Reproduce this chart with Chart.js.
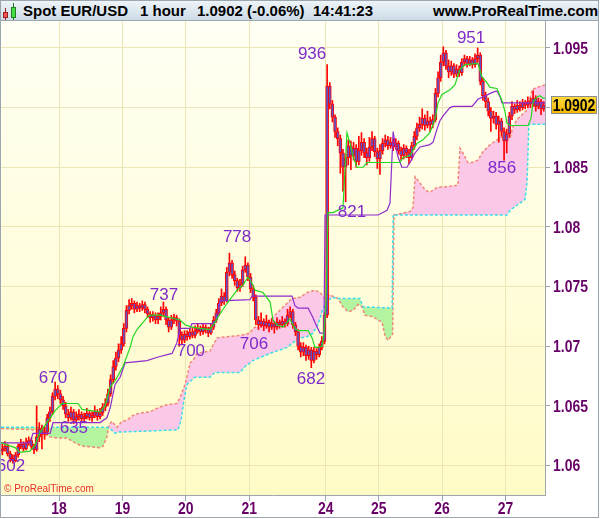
<!DOCTYPE html>
<html lang="en">
<head>
<meta charset="UTF-8">
<title>Spot EUR/USD 1 hour</title>
<script src="https://cdn.jsdelivr.net/npm/chart.js"></script>
<style>
  body { margin: 0; background: #fff; font-family: "Liberation Sans", Arial, sans-serif; }
  #frame { position: absolute; left: 0; top: 0; width: 597px; height: 516px; border: 1px solid #9ba6ae; }
  header { position: absolute; left: 0; top: 0; width: 597px; height: 19px; border-bottom: 1px solid #9ba6ae;
           background: linear-gradient(#eef4f8, #cddbe6); font-weight: bold; font-size: 15px; color: #000; }
  header span { position: absolute; top: 1px; line-height: 18px; white-space: nowrap; }
  .ico { position: absolute; }
  #chartBox { position: absolute; left: 0; top: 20px; width: 597px; height: 496px; }
  .copy { position: absolute; left: 3px; top: 482px; font-size: 10px; line-height: 12px; color: #e8302a; }
</style>
</head>
<body>
<div id="frame">
  <header>
    <div class="ico" style="left:4px;top:7px;width:1px;height:12px;background:#a02020"></div>
    <div class="ico" style="left:2px;top:11px;width:3px;height:4px;background:#ee5555;border:1px solid #a02020"></div>
    <div class="ico" style="left:12px;top:2px;width:1px;height:17px;background:#208020"></div>
    <div class="ico" style="left:10px;top:6px;width:3px;height:9px;background:#44dd44;border:1px solid #208020"></div>
    <span style="left:22px">Spot EUR/USD</span>
    <span style="left:139px">1 hour</span>
    <span style="left:196px">1.0902 (-0.06%)</span>
    <span style="left:312px">14:41:23</span>
    <span style="left:432px">www.ProRealTime.com</span>
  </header>
  <div id="chartBox"><canvas id="chart"></canvas></div>
  <div class="copy">&copy; ProRealTime.com</div>
</div>

<script>
  // x axis: one unit = one hourly candle, day labels at the first candle of each day
  const dayLabels = ['18', '19', '20', '21', '24', '25', '26', '27'];
  const dayStart = [22, 46, 70, 94, 123, 143, 167, 191];
  const yTicks = [1.06, 1.065, 1.07, 1.075, 1.08, 1.085, 1.09, 1.095];
  const yTickLabels = ['1.06', '1.065', '1.07', '1.075', '1.08', '1.085', '1.09', '1.095'];

  // hourly candles (open = previous close)
  const firstOpen = 1.0612;
  const closes = [
    1.0614, 1.0616, 1.0610, 1.0606, 1.0604, 1.0609, 1.0616, 1.0618, 1.0614, 1.0619,
    1.0621, 1.0616, 1.0613, 1.0624, 1.0631, 1.0626, 1.0628, 1.0640, 1.0645, 1.0658,
    1.0664, 1.0660, 1.0655, 1.0650, 1.0643, 1.0640, 1.0645, 1.0638, 1.0641, 1.0643,
    1.0639, 1.0641, 1.0644, 1.0640, 1.0642, 1.0645, 1.0641, 1.0644, 1.0649, 1.0652,
    1.0660, 1.0672, 1.0683, 1.0690, 1.0697, 1.0702, 1.0715, 1.0730, 1.0734, 1.0736,
    1.0731, 1.0734, 1.0732, 1.0735, 1.0731, 1.0727, 1.0724, 1.0726, 1.0722, 1.0725,
    1.0728, 1.0731, 1.0722, 1.0716, 1.0722, 1.0724, 1.0721, 1.0709, 1.0705, 1.0710,
    1.0708, 1.0712, 1.0709, 1.0713, 1.0715, 1.0712, 1.0716, 1.0714, 1.0711, 1.0716,
    1.0722, 1.0728, 1.0736, 1.0742, 1.0738, 1.0762, 1.0770, 1.0760, 1.0755, 1.0749,
    1.0752, 1.0764, 1.0768, 1.0758, 1.0748, 1.0741, 1.0722, 1.0718, 1.0721, 1.0717,
    1.0720, 1.0716, 1.0719, 1.0716, 1.0720, 1.0718, 1.0721, 1.0719, 1.0726, 1.0729,
    1.0718, 1.0712, 1.0700, 1.0695, 1.0699, 1.0692, 1.0697, 1.0688, 1.0696, 1.0693,
    1.0699, 1.0704, 1.0726, 1.0918, 1.0903, 1.0892, 1.0880, 1.0874, 1.0862, 1.0850,
    1.0858, 1.0868, 1.0860, 1.0866, 1.0855, 1.0864, 1.0871, 1.0862, 1.0858, 1.0867,
    1.0874, 1.0863, 1.0857, 1.0864, 1.0870, 1.0873, 1.0868, 1.0871, 1.0867, 1.0870,
    1.0864, 1.0860, 1.0866, 1.0862, 1.0858, 1.0868, 1.0876, 1.0883, 1.0886, 1.0891,
    1.0885, 1.0889, 1.0886, 1.0890, 1.0912, 1.0925, 1.0938, 1.0946, 1.0935, 1.0930,
    1.0935, 1.0928, 1.0932, 1.0929, 1.0938, 1.0941, 1.0937, 1.0940, 1.0936, 1.0941,
    1.0944, 1.0922, 1.0910, 1.0905, 1.0897, 1.0891, 1.0893, 1.0886, 1.0889, 1.0880,
    1.0872, 1.0878, 1.0893, 1.0901, 1.0898, 1.0902, 1.0900, 1.0904, 1.0902, 1.0905,
    1.0903, 1.0908, 1.0901, 1.0905, 1.0899, 1.0902
  ];
  const highs = [
    1.0618, 1.0620, 1.0618, 1.0612, 1.0609, 1.0611, 1.0618, 1.0622, 1.0620, 1.0623,
    1.0624, 1.0623, 1.0618, 1.0650, 1.0636, 1.0634, 1.0632, 1.0643, 1.0649, 1.0661,
    1.0670, 1.0667, 1.0663, 1.0658, 1.0653, 1.0647, 1.0649, 1.0647, 1.0645, 1.0647,
    1.0645, 1.0644, 1.0648, 1.0646, 1.0645, 1.0650, 1.0647, 1.0648, 1.0652, 1.0656,
    1.0664, 1.0676, 1.0688, 1.0695, 1.0702, 1.0708, 1.0719, 1.0734, 1.0739, 1.0740,
    1.0738, 1.0737, 1.0736, 1.0738, 1.0737, 1.0733, 1.0729, 1.0729, 1.0728, 1.0728,
    1.0733, 1.0737, 1.0733, 1.0724, 1.0726, 1.0727, 1.0726, 1.0723, 1.0712, 1.0713,
    1.0713, 1.0715, 1.0716, 1.0717, 1.0719, 1.0717, 1.0719, 1.0718, 1.0716, 1.0719,
    1.0725, 1.0731, 1.0740, 1.0748, 1.0745, 1.0766, 1.0778, 1.0772, 1.0763, 1.0757,
    1.0756, 1.0767, 1.0775, 1.0770, 1.0761, 1.0751, 1.0743, 1.0725, 1.0728, 1.0723,
    1.0726, 1.0722, 1.0723, 1.0721, 1.0724, 1.0722, 1.0725, 1.0723, 1.0731, 1.0733,
    1.0731, 1.0720, 1.0714, 1.0703, 1.0703, 1.0701, 1.0700, 1.0699, 1.0699, 1.0698,
    1.0702, 1.0708, 1.0728, 1.0936, 1.0921, 1.0906, 1.0894, 1.0883, 1.0877, 1.0865,
    1.0861, 1.0873, 1.0872, 1.0871, 1.0869, 1.0876, 1.0879, 1.0874, 1.0866, 1.0875,
    1.0880, 1.0876, 1.0866, 1.0869, 1.0874, 1.0877, 1.0876, 1.0875, 1.0874, 1.0874,
    1.0872, 1.0867, 1.0869, 1.0868, 1.0865, 1.0871, 1.0880, 1.0887, 1.0892, 1.0899,
    1.0894, 1.0897, 1.0892, 1.0894, 1.0916, 1.0930, 1.0944, 1.0951, 1.0948, 1.0940,
    1.0939, 1.0937, 1.0936, 1.0935, 1.0941, 1.0944, 1.0943, 1.0943, 1.0942, 1.0945,
    1.0950, 1.0946, 1.0925, 1.0913, 1.0908, 1.0900, 1.0897, 1.0896, 1.0893, 1.0891,
    1.0883, 1.0882, 1.0896, 1.0905, 1.0903, 1.0906, 1.0905, 1.0907, 1.0906, 1.0909,
    1.0908, 1.0914, 1.0910, 1.0908, 1.0907, 1.0905
  ];
  const lows = [
    1.0609, 1.0612, 1.0608, 1.0603, 1.0602, 1.0603, 1.0607, 1.0614, 1.0612, 1.0613,
    1.0617, 1.0614, 1.0610, 1.0612, 1.0620, 1.0614, 1.0622, 1.0626, 1.0637, 1.0643,
    1.0655, 1.0656, 1.0652, 1.0647, 1.0640, 1.0637, 1.0638, 1.0635, 1.0636, 1.0638,
    1.0637, 1.0637, 1.0639, 1.0638, 1.0637, 1.0640, 1.0638, 1.0639, 1.0642, 1.0646,
    1.0650, 1.0658, 1.0669, 1.0680, 1.0687, 1.0694, 1.0700, 1.0712, 1.0727, 1.0731,
    1.0728, 1.0729, 1.0729, 1.0730, 1.0728, 1.0724, 1.0720, 1.0721, 1.0719, 1.0719,
    1.0722, 1.0725, 1.0718, 1.0712, 1.0714, 1.0719, 1.0717, 1.0700, 1.0702, 1.0703,
    1.0705, 1.0706, 1.0707, 1.0707, 1.0711, 1.0709, 1.0710, 1.0711, 1.0708, 1.0710,
    1.0714, 1.0720, 1.0726, 1.0734, 1.0735, 1.0737, 1.0759, 1.0757, 1.0751, 1.0746,
    1.0746, 1.0750, 1.0762, 1.0755, 1.0745, 1.0738, 1.0718, 1.0714, 1.0716, 1.0713,
    1.0715, 1.0712, 1.0714, 1.0711, 1.0714, 1.0715, 1.0716, 1.0716, 1.0717, 1.0724,
    1.0715, 1.0709, 1.0697, 1.0691, 1.0692, 1.0688, 1.0689, 1.0682, 1.0686, 1.0689,
    1.0691, 1.0697, 1.0702, 1.0724, 1.0899, 1.0888, 1.0875, 1.0868, 1.0845, 1.0830,
    1.0821, 1.0852, 1.0848, 1.0856, 1.0850, 1.0852, 1.0860, 1.0858, 1.0852, 1.0855,
    1.0864, 1.0859, 1.0849, 1.0844, 1.0861, 1.0867, 1.0865, 1.0866, 1.0864, 1.0865,
    1.0861, 1.0856, 1.0857, 1.0858, 1.0853, 1.0856, 1.0865, 1.0873, 1.0880, 1.0882,
    1.0881, 1.0883, 1.0880, 1.0883, 1.0888, 1.0909, 1.0922, 1.0935, 1.0932, 1.0925,
    1.0927, 1.0925, 1.0926, 1.0926, 1.0927, 1.0935, 1.0934, 1.0935, 1.0933, 1.0934,
    1.0938, 1.0919, 1.0906, 1.0900, 1.0893, 1.0880, 1.0887, 1.0882, 1.0871, 1.0876,
    1.0856, 1.0862, 1.0875, 1.0890, 1.0895, 1.0896, 1.0897, 1.0898, 1.0899, 1.0900,
    1.0900, 1.0901, 1.0897, 1.0899, 1.0894, 1.0897
  ];
  const lastPrice = 1.0902;

  // ichimoku lines: [hour, price]
  const tenkan = [
    [-0.5, 1.0619], [4.8, 1.0615], [6.7, 1.0611], [10.5, 1.0612], [12.4, 1.0617], [14.3, 1.0628],
    [16.9, 1.0636], [20.0, 1.0646], [22.6, 1.0652], [28.7, 1.0652], [30.2, 1.0647], [37.0, 1.0645],
    [38.9, 1.0650], [40.8, 1.0666], [42.7, 1.0671], [45.7, 1.0683], [48.4, 1.0699], [49.5, 1.0708],
    [51.0, 1.0714], [52.9, 1.0719], [54.8, 1.0724], [55.9, 1.0726], [59.7, 1.0726], [61.6, 1.0725],
    [65.4, 1.0723], [67.3, 1.0722], [69.2, 1.0718], [71.8, 1.0716], [74.9, 1.0715], [78.6, 1.0714],
    [80.5, 1.0720], [82.4, 1.0727], [85.1, 1.0736], [88.9, 1.0747], [91.1, 1.0751], [93.0, 1.0758],
    [94.5, 1.0753], [95.7, 1.0747], [98.7, 1.0745], [101.4, 1.0737], [102.5, 1.0722], [104.0, 1.0718],
    [106.3, 1.0716], [107.8, 1.0720], [108.9, 1.0723], [109.7, 1.0719], [110.8, 1.0715], [112.0, 1.0713],
    [115.8, 1.0713], [117.3, 1.0707], [118.4, 1.0699], [119.5, 1.0699], [121.1, 1.0700], [121.8, 1.0711],
    [122.6, 1.0736], [123.3, 1.0812], [125.2, 1.0812], [129.0, 1.0816], [130.5, 1.0879], [131.7, 1.0870],
    [132.8, 1.0859], [134.3, 1.0850], [136.6, 1.0850], [138.1, 1.0854], [150.6, 1.0854], [151.7, 1.0858],
    [154.4, 1.0860], [157.0, 1.0870], [159.3, 1.0873], [161.9, 1.0879], [163.8, 1.0890], [165.0, 1.0904],
    [166.5, 1.0911], [169.5, 1.0915], [171.4, 1.0919], [173.3, 1.0932], [175.2, 1.0936], [180.1, 1.0937],
    [181.6, 1.0926], [183.5, 1.0921], [184.7, 1.0917], [187.3, 1.0916], [189.2, 1.0906], [190.4, 1.0896],
    [191.1, 1.0887], [192.3, 1.0885], [199.1, 1.0885], [200.2, 1.0891], [201.0, 1.0905], [202.5, 1.0909],
    [203.6, 1.0910], [204.7, 1.0908], [205.5, 1.0908]
  ];
  const kijun = [
    [-0.5, 1.0619], [10.5, 1.0619], [11.6, 1.0627], [18.1, 1.0627], [19.2, 1.0636], [37.0, 1.0636],
    [39.6, 1.0640], [40.8, 1.0648], [42.7, 1.0668], [44.6, 1.0674], [46.5, 1.0686], [54.8, 1.0688],
    [59.0, 1.0691], [64.3, 1.0694], [66.1, 1.0703], [67.3, 1.0715], [71.1, 1.0715], [71.8, 1.0719],
    [79.8, 1.0719], [81.3, 1.0722], [82.4, 1.0738], [93.8, 1.0739], [94.5, 1.0742], [109.7, 1.0742],
    [110.8, 1.0734], [112.0, 1.0732], [115.8, 1.0732], [117.6, 1.0724], [119.2, 1.0716], [120.3, 1.0711],
    [121.8, 1.0711], [122.2, 1.0810], [142.3, 1.0810], [145.7, 1.0814], [146.8, 1.0820], [148.0, 1.0880],
    [148.7, 1.0870], [149.8, 1.0859], [151.3, 1.0850], [153.2, 1.0850], [154.4, 1.0854], [156.3, 1.0862],
    [158.2, 1.0867], [161.9, 1.0869], [163.1, 1.0871], [164.6, 1.0882], [165.7, 1.0889], [166.9, 1.0893],
    [169.5, 1.0900], [170.7, 1.0901], [177.9, 1.0901], [180.1, 1.0907], [182.0, 1.0909], [185.8, 1.0913],
    [187.3, 1.0914], [188.5, 1.0909], [189.2, 1.0904], [205.5, 1.0904]
  ];
  const spanA = [
    [-0.5, 1.0631], [13.1, 1.0630], [15.4, 1.0627], [18.1, 1.0624], [21.1, 1.0623], [24.5, 1.0623],
    [26.8, 1.0620], [29.4, 1.0617], [31.3, 1.0616], [37.0, 1.0615], [38.1, 1.0616], [39.6, 1.0624],
    [40.4, 1.0634], [41.5, 1.0637], [43.4, 1.0632], [45.3, 1.0637], [47.2, 1.0638], [49.5, 1.0642],
    [52.1, 1.0644], [55.9, 1.0645], [59.7, 1.0649], [62.4, 1.0651], [66.1, 1.0652], [67.3, 1.0657],
    [69.2, 1.0668], [69.9, 1.0674], [71.1, 1.0686], [72.2, 1.0688], [73.7, 1.0694], [78.6, 1.0696],
    [81.3, 1.0707], [85.1, 1.0708], [90.0, 1.0709], [93.8, 1.0711], [94.9, 1.0715], [101.4, 1.0722],
    [107.8, 1.0736], [109.7, 1.0740], [112.7, 1.0741], [115.4, 1.0745], [118.4, 1.0747], [120.3, 1.0745],
    [122.2, 1.0740], [124.1, 1.0743], [126.0, 1.0741], [127.1, 1.0740], [129.0, 1.0733], [130.9, 1.0729],
    [132.8, 1.0730], [134.7, 1.0735], [136.2, 1.0733], [137.3, 1.0726], [140.0, 1.0725], [142.3, 1.0722],
    [143.8, 1.0720], [144.9, 1.0709], [146.0, 1.0705], [147.8, 1.0710], [148.3, 1.0810], [150.6, 1.0811],
    [154.4, 1.0813], [155.5, 1.0816], [156.3, 1.0842], [157.4, 1.0839], [160.1, 1.0831], [161.9, 1.0829],
    [164.6, 1.0833], [169.5, 1.0834], [172.5, 1.0835], [173.3, 1.0866], [174.4, 1.0862], [176.3, 1.0854],
    [177.9, 1.0854], [180.1, 1.0856], [182.0, 1.0863], [184.7, 1.0869], [187.3, 1.0873], [188.5, 1.0875],
    [192.3, 1.0875], [193.4, 1.0884], [194.9, 1.0890], [198.7, 1.0898], [200.6, 1.0915], [202.5, 1.0917],
    [205.5, 1.0919]
  ];
  const spanB = [
    [-0.5, 1.0632], [39.6, 1.0632], [40.8, 1.0631], [42.7, 1.0627], [43.8, 1.0628], [55.9, 1.0629],
    [66.5, 1.0630], [67.7, 1.0638], [68.8, 1.0655], [69.9, 1.0668], [72.9, 1.0674], [78.6, 1.0674],
    [80.5, 1.0678], [90.0, 1.0678], [91.9, 1.0683], [93.8, 1.0686], [94.9, 1.0688], [101.4, 1.0694],
    [107.8, 1.0699], [110.1, 1.0703], [112.7, 1.0707], [115.4, 1.0708], [117.6, 1.0711], [119.5, 1.0718],
    [121.1, 1.0729], [122.6, 1.0737], [124.8, 1.0741], [127.1, 1.0740], [135.4, 1.0740], [136.6, 1.0733],
    [147.6, 1.0732], [148.0, 1.0810], [191.1, 1.0810], [192.3, 1.0814], [196.0, 1.0820], [197.9, 1.0823],
    [198.7, 1.0837], [199.4, 1.0886], [205.5, 1.0886]
  ];

  // swing labels: text, hour and price where the label sits
  const pivotText = ['602', '670', '635', '737', '700', '778', '706', '682', '936', '821', '951', '856'];
  const pivotHour = [3.3, 19.2, 27.1, 61.2, 71.4, 88.9, 95.3, 116.9, 117.3, 132.4, 177.5, 189.2];
  const pivotPrice = [1.0599, 1.0673, 1.0631, 1.0743, 1.0696, 1.0791, 1.0702, 1.0672, 1.0945, 1.0812, 1.0958, 1.0849];

  const opens = closes.map((c, i) => i === 0 ? firstOpen : closes[i - 1]);
  const pts = arr => arr.map(p => ({ x: p[0], y: p[1] }));
  const axisColor = '#660066';

  // narrow bold text: Liberation Sans squeezed sideways
  function narrowText(ctx, text, x, y, align) {
    ctx.save();
    ctx.font = 'bold 17px "Liberation Sans", Arial';
    ctx.textBaseline = 'middle';
    ctx.textAlign = align;
    ctx.translate(x, y);
    ctx.scale(0.82, 1);
    ctx.fillText(text, 0, 0);
    ctx.restore();
  }

  const plotBg = {
    id: 'plotBg',
    beforeDraw(chart) {
      const { ctx, chartArea: a } = chart;
      const g = ctx.createLinearGradient(0, a.top, 0, a.bottom);
      g.addColorStop(0, '#fffff4');
      g.addColorStop(1, '#fffbc6');
      ctx.save();
      ctx.fillStyle = g;
      ctx.fillRect(a.left, a.top, a.right - a.left, a.bottom - a.top);
      ctx.restore();
    }
  };

  const pivotLabels = {
    id: 'pivotLabels',
    afterDatasetsDraw(chart) {
      const { ctx, scales: { x, y } } = chart;
      ctx.save();
      ctx.font = '17px "Liberation Sans", Arial';
      ctx.fillStyle = '#7f2bc9';
      ctx.textAlign = 'center';
      ctx.textBaseline = 'middle';
      pivotText.forEach((t, i) => {
        ctx.fillText(t, x.getPixelForValue(pivotHour[i]), y.getPixelForValue(pivotPrice[i]));
      });
      ctx.restore();
    }
  };

  // axis labels and the last-price tag
  const axisLabels = {
    id: 'axisLabels',
    afterDraw(chart) {
      const { ctx, chartArea: a, scales: { x, y } } = chart;
      ctx.fillStyle = axisColor;
      yTicks.forEach((v, i) => narrowText(ctx, yTickLabels[i], a.right + 8, y.getPixelForValue(v) + 1, 'left'));
      dayStart.forEach((d, i) => narrowText(ctx, dayLabels[i], x.getPixelForValue(d - 0.5), a.bottom + 14, 'center'));

      const yy = Math.round(y.getPixelForValue(lastPrice));
      const left = a.right + 6;
      ctx.save();
      const g = ctx.createLinearGradient(0, yy - 9, 0, yy + 9);
      g.addColorStop(0, '#ffdc40');
      g.addColorStop(1, '#f2b600');
      ctx.fillStyle = g;
      ctx.fillRect(left, yy - 9, 46, 18);
      ctx.strokeStyle = '#8c8c8c';
      ctx.lineWidth = 1;
      ctx.strokeRect(left + 0.5, yy - 8.5, 45, 17);
      ctx.restore();
      ctx.fillStyle = '#000';
      narrowText(ctx, lastPrice.toFixed(4), left + 23, yy + 1, 'center');
    }
  };

  new Chart(document.getElementById('chart'), {
    type: 'bar',
    data: {
      datasets: [
        {
          type: 'line', label: 'Senkou A', data: pts(spanA),
          borderColor: '#f08878', borderWidth: 1.5, borderDash: [3, 2], pointRadius: 0,
          fill: { target: '+1', above: '#fcc8e8', below: '#b4f4a0' }, order: 6
        },
        {
          type: 'line', label: 'Senkou B', data: pts(spanB),
          borderColor: '#3cdcec', borderWidth: 1.5, borderDash: [3, 2], pointRadius: 0,
          fill: false, order: 5
        },
        {
          label: 'wicks', data: highs.map((h, i) => ({ x: i, y: [lows[i], h] })),
          backgroundColor: '#ff0000', barThickness: 1, grouped: false, order: 4
        },
        {
          label: 'bodies', data: closes.map((c, i) => ({ x: i, y: [opens[i], c] })),
          backgroundColor: '#5e54c8',
          borderColor: '#ff0000', borderWidth: 1, borderSkipped: false,
          barThickness: 3, minBarLength: 1, grouped: false, order: 3
        },
        {
          type: 'line', label: 'Kijun', data: pts(kijun),
          borderColor: '#8e2ccc', borderWidth: 1.2, pointRadius: 0, fill: false, order: 2
        },
        {
          type: 'line', label: 'Tenkan', data: pts(tenkan),
          borderColor: '#22d822', borderWidth: 1.2, pointRadius: 0, fill: false, order: 1
        }
      ]
    },
    options: {
      responsive: true,
      maintainAspectRatio: false,
      animation: false,
      devicePixelRatio: 1,
      layout: { padding: 0 },
      plugins: { legend: { display: false }, tooltip: { enabled: false } },
      scales: {
        x: {
          type: 'linear', min: -0.5, max: 205.5, offset: false,
          afterBuildTicks: s => { s.ticks = dayStart.map(d => ({ value: d - 0.5 })); },
          afterFit: s => { s.height = 22; s.paddingLeft = 0; s.paddingRight = 0; },
          grid: { color: '#ebe6b4', offset: false, tickLength: 6, tickColor: '#9ba6ae' },
          border: { color: '#9ba6ae' },
          ticks: { display: false, autoSkip: false }
        },
        y: {
          position: 'right', min: 1.05753, max: 1.09726, beginAtZero: false,
          afterBuildTicks: s => { s.ticks = yTicks.map(v => ({ value: v })); },
          afterFit: s => { s.width = 53; s.paddingTop = 0; s.paddingBottom = 0; },
          grid: { color: '#ebe6b4', tickLength: 5, tickColor: '#9ba6ae' },
          border: { color: '#9ba6ae' },
          ticks: { display: false, autoSkip: false }
        }
      }
    },
    plugins: [plotBg, pivotLabels, axisLabels]
  });
</script>
</body>
</html>
